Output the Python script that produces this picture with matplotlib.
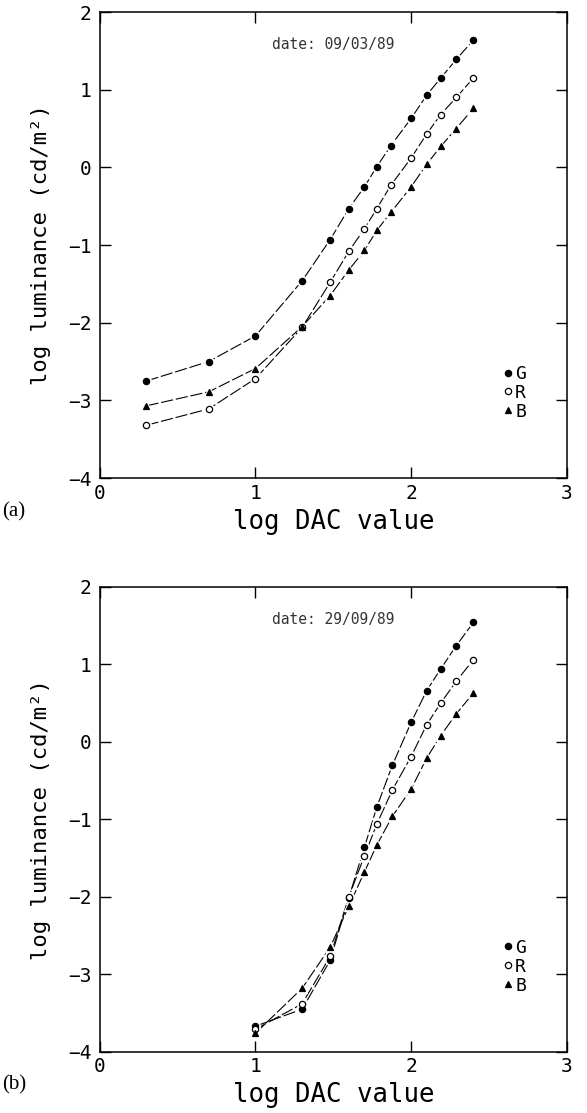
import matplotlib
matplotlib.use("Agg")
import matplotlib.pyplot as plt
from matplotlib.lines import Line2D

# (a) date 09/03/89
x_a = [0.30, 0.70, 1.00, 1.30, 1.48, 1.60, 1.70, 1.78, 1.87, 2.00, 2.10, 2.19, 2.29, 2.40]
g_a = [-2.75, -2.50, -2.17, -1.46, -0.93, -0.53, -0.25, 0.01, 0.28, 0.63, 0.93, 1.15, 1.39, 1.64]
r_a = [-3.32, -3.11, -2.72, -2.06, -1.48, -1.08, -0.79, -0.53, -0.23, 0.12, 0.43, 0.68, 0.90, 1.15]
b_a = [-3.07, -2.89, -2.59, -2.05, -1.65, -1.32, -1.07, -0.81, -0.58, -0.25, 0.04, 0.27, 0.50, 0.76]

# (b) date 29/09/89
x_b = [1.00, 1.30, 1.48, 1.60, 1.70, 1.78, 1.88, 2.00, 2.10, 2.19, 2.29, 2.40]
g_b = [-3.67, -3.45, -2.82, -2.01, -1.36, -0.84, -0.30, 0.25, 0.66, 0.94, 1.24, 1.54]
r_b = [-3.71, -3.38, -2.77, -2.00, -1.47, -1.06, -0.62, -0.19, 0.22, 0.50, 0.78, 1.06]
b_b = [-3.76, -3.18, -2.65, -2.12, -1.68, -1.33, -0.96, -0.61, -0.21, 0.08, 0.36, 0.63]

xticks = [0, 1, 2, 3]
yticks = [-4, -3, -2, -1, 0, 1, 2]

plt.rcParams['font.family'] = ['DejaVu Sans Mono']

fig = plt.figure(figsize=(5.87, 11.13), dpi=100)
ax1 = fig.add_axes([0.170, 0.5705, 0.7956, 0.4187])
ax2 = fig.add_axes([0.170, 0.0550, 0.7956, 0.4178])

dash = (0, (11, 2.5))
styles = [('G', 'o', 'black', 4.5), ('R', 'o', 'white', 4.5), ('B', '^', 'black', 5.0)]


def panel(ax, x, series, date):
    for (name, mk, fc, ms), y in zip(styles, series):
        ax.plot(x, y, color='black', lw=0.8, linestyle=dash, zorder=1)
        # white halo so the line stops short of each marker
        ax.plot(x, y, linestyle='none', marker=mk, ms=ms + 2.5, mfc='white',
                mec='white', zorder=2)
        ax.plot(x, y, linestyle='none', marker=mk, ms=ms, mfc=fc,
                mec='black', mew=0.9, zorder=3)
    ax.set_xlim(0, 3)
    ax.set_ylim(-4, 2)
    ax.set_xticks(xticks)
    ax.set_yticks(yticks)
    ax.tick_params(direction='in', length=8, width=1, top=True, right=True,
                   labelsize=14)
    ax.tick_params(axis='x', pad=4)
    ax.tick_params(axis='y', pad=6)
    for sp in ax.spines.values():
        sp.set_linewidth(1.1)
    ax.set_xlabel('log DAC value', fontsize=18.5)
    ax.xaxis.set_label_coords(0.5, -0.066)
    ax.set_ylabel('log luminance (cd/m²)', fontsize=16)
    ax.yaxis.set_label_coords(-0.105, 0.5)
    ax.text(0.5, 0.93, date, transform=ax.transAxes, ha='center', va='center',
            fontsize=10.5, color='#333333')
    handles = [Line2D([], [], linestyle='none', marker=mk, ms=ms, mfc=fc,
                      mec='black', mew=0.9) for (name, mk, fc, ms) in styles]
    ax.legend(handles, [s[0] for s in styles], loc='center left',
              bbox_to_anchor=(0.845, 0.183), frameon=False, fontsize=13,
              handlelength=0.5, handletextpad=0.15, labelspacing=0.05,
              borderpad=0)


panel(ax1, x_a, [g_a, r_a, b_a], 'date: 09/03/89')
panel(ax2, x_b, [g_b, r_b, b_b], 'date: 29/09/89')

fig.text(0.004, 0.536, '(a)', family='Liberation Serif', fontsize=15)
fig.text(0.004, 0.021, '(b)', family='Liberation Serif', fontsize=15)

fig.savefig('out.png', dpi=100)
